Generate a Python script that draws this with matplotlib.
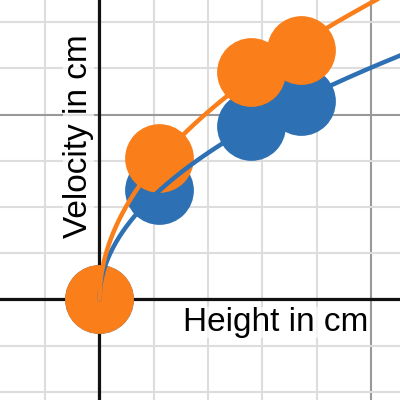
import numpy as np
import matplotlib
matplotlib.use('Agg')
import matplotlib.pyplot as plt

# Datos
altura = [0.0, 1.1, 2.78, 3.71]
velocidad_azul = [0.0, 1.185, 1.88, 2.15]
velocidad_naranja = [0.0, 1.526, 2.46, 2.70]

azul = '#2d70b3'
naranja = '#fa7e19'

plt.rcParams['font.family'] = ['Liberation Sans', 'DejaVu Sans']

fig = plt.figure(figsize=(4, 4), dpi=100)
ax = fig.add_axes([0, 0, 1, 1])
ax.set_xlim(-1.831, 5.531)
ax.set_ylim(-1.088, 3.241)

# Cuadricula (menor y mayor)
for gx in np.arange(-1, 6, 1):
    ax.axvline(gx, color='#999999' if gx % 5 == 0 else '#dddddd', lw=1.5, zorder=0)
for gy in np.arange(-1.0, 3.5, 0.5):
    ax.axhline(gy, color='#999999' if gy % 2 == 0 else '#dddddd', lw=1.5, zorder=0)
ax.axhline(0, color='#111111', lw=2.3, zorder=1)
ax.axvline(0, color='#111111', lw=2.3, zorder=1)

# Ajuste y = a*sqrt(x) por minimos cuadrados
x = np.array(altura)
xs = np.linspace(0, 5.6, 400)
for ys, color in [(velocidad_azul, azul), (velocidad_naranja, naranja)]:
    ys = np.array(ys)
    a = np.sum(ys * np.sqrt(x)) / np.sum(x)
    ax.plot(xs, a * np.sqrt(xs), color=color, lw=3.2, zorder=5, solid_capstyle='round')

ax.plot(altura, velocidad_azul, 'o', color=azul, ms=49.5, mew=0, zorder=3)
ax.plot(altura, velocidad_naranja, 'o', color=naranja, ms=49.5, mew=0, zorder=4)

ax.text(183 / 400, 1 - 331 / 400, 'Height in cm', transform=ax.transAxes,
        fontsize=24, ha='left', va='baseline', zorder=6,
        bbox=dict(facecolor='white', edgecolor='none', alpha=0.7, pad=0))
ax.text(87 / 400, 1 - 238 / 400, 'Velocity in cm', transform=ax.transAxes,
        fontsize=24, rotation=90, ha='left', va='baseline', rotation_mode='anchor', zorder=6,
        bbox=dict(facecolor='white', edgecolor='none', alpha=0.7, pad=0))

ax.axis('off')
fig.savefig('out.png', dpi=100)
